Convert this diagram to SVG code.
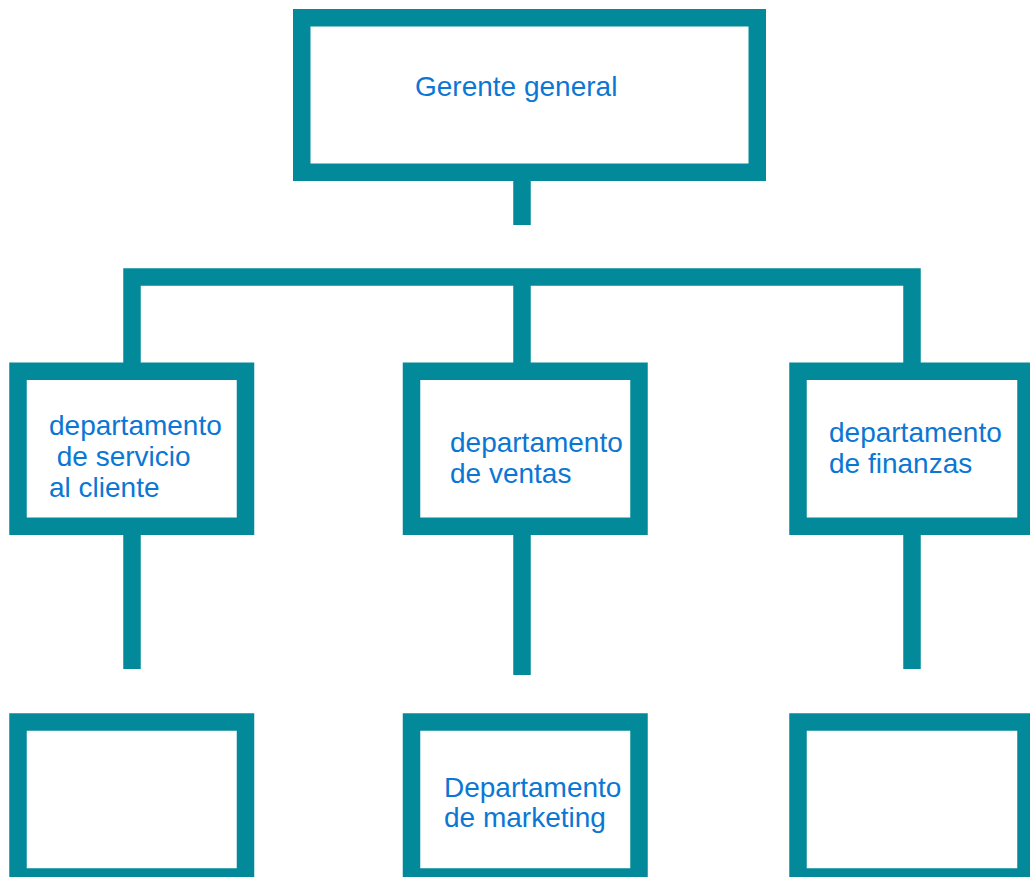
<svg xmlns="http://www.w3.org/2000/svg" width="1030" height="877" viewBox="0 0 1030 877">
<style>
.box{fill:#ffffff;stroke:#028A9A;stroke-width:17.5}
.conn{fill:none;stroke:#028A9A;stroke-width:17.5;stroke-linejoin:miter;stroke-linecap:butt}
.lbl{font-family:"Liberation Sans",Arial,sans-serif;font-size:28px;fill:#0B77D4}
</style>
<rect width="1030" height="877" fill="#ffffff"/>
<g id="connectors">
<path class="conn" d="M522,181 V225"/>
<path class="conn" d="M132,363 V277 H912 V363"/>
<path class="conn" d="M522,277 V363"/>
<path class="conn" d="M132,535 V669"/>
<path class="conn" d="M522,535 V675"/>
<path class="conn" d="M912,535 V669"/>
</g>
<g id="gerente">
<rect class="box" x="301.75" y="17.75" width="455.5" height="154.5"/>
<text class="lbl" x="415" y="96">Gerente general</text>
</g>
<g id="servicio">
<rect class="box" x="18" y="371.25" width="227.5" height="155"/>
<text class="lbl" xml:space="preserve"><tspan x="49" y="434.5">departamento</tspan><tspan x="49" y="465.5"> de servicio</tspan><tspan x="49" y="497">al cliente</tspan></text>
</g>
<g id="ventas">
<rect class="box" x="411.5" y="371.25" width="227.5" height="155"/>
<text class="lbl"><tspan x="450" y="451.5">departamento</tspan><tspan x="450" y="482.5">de ventas</tspan></text>
</g>
<g id="finanzas">
<rect class="box" x="798" y="371.25" width="228" height="155"/>
<text class="lbl"><tspan x="829" y="441.5">departamento</tspan><tspan x="829" y="473">de finanzas</tspan></text>
</g>
<g id="sub-servicio">
<rect class="box" x="18" y="722" width="227.5" height="155"/>
</g>
<g id="marketing">
<rect class="box" x="411.5" y="722" width="227.5" height="155"/>
<text class="lbl"><tspan x="444" y="796.5">Departamento</tspan><tspan x="444" y="827">de marketing</tspan></text>
</g>
<g id="sub-finanzas">
<rect class="box" x="798" y="722" width="228" height="155"/>
</g>
</svg>
